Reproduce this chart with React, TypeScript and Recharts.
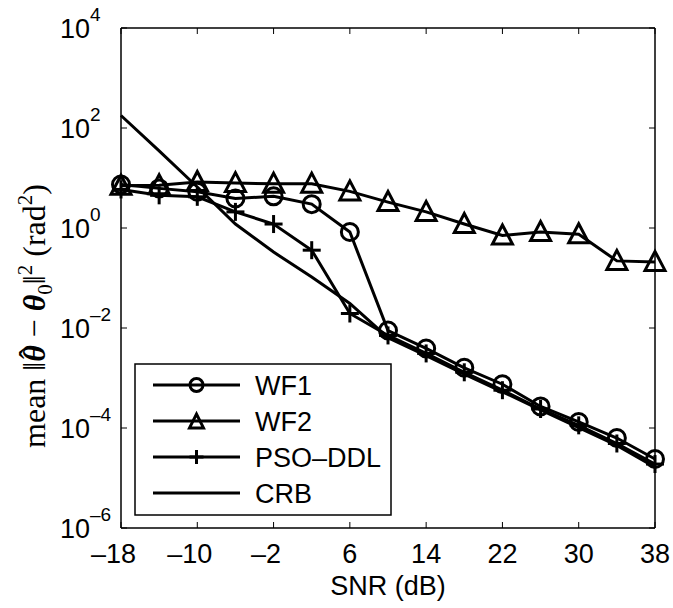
import React from 'react';
import { LineChart, Line, XAxis, YAxis, Legend } from 'recharts';

const snr = [-18, -14, -10, -6, -2, 2, 6, 10, 14, 18, 22, 26, 30, 34, 38];
const wf1 = [7.4, 6.2, 5.3, 3.9, 4.3, 3.0, 0.83, 0.0089, 0.0039, 0.0016, 7.5e-4, 2.7e-4, 1.32e-4, 6.3e-5, 2.4e-5];
const wf2 = [7.0, 7.2, 8.3, 7.9, 7.7, 7.7, 5.4, 3.3, 2.1, 1.2, 0.71, 0.83, 0.75, 0.22, 0.21];
const psoDdl = [5.9, 4.5, 4.2, 2.1, 1.2, 0.36, 0.0195, 0.0071, 0.0031, 0.0013, 5.7e-4, 2.4e-4, 1.13e-4, 4.9e-5, 1.9e-5];
const crb = [178, 35, 6.6, 1.2, 0.33, 0.105, 0.031, 0.0064, 0.0028, 0.0012, 5.3e-4, 2.3e-4, 1.02e-4, 4.5e-5, 1.65e-5];

const xTicks = [-18, -10, -2, 6, 14, 22, 30, 38];
const yTicks = [1e-6, 1e-4, 1e-2, 1e0, 1e2, 1e4];
const seriesNames = ['WF1', 'WF2', 'PSO–DDL', 'CRB'];

const data = snr.map((s, i) => ({ snr: s, wf1: wf1[i], wf2: wf2[i], pso: psoDdl[i], crb: crb[i] }));

const FONT = '"Liberation Sans", Arial, Helvetica, sans-serif';
const SERIF = '"Liberation Serif", "Times New Roman", serif';
const FS = 27;
const LW = 3;

const circleDot = (r: number) => (p: any) => (
  <circle key={`c${p.index}`} cx={p.cx} cy={p.cy} r={r} fill="none" stroke="#000" strokeWidth={LW} />
);
const triDot = (s: number) => (p: any) => {
  const h = s * 0.85;
  const pts = `${p.cx - s / 2},${p.cy + h / 2} ${p.cx + s / 2},${p.cy + h / 2} ${p.cx},${p.cy - h / 2 - 2}`;
  return <polygon key={`t${p.index}`} points={pts} fill="none" stroke="#000" strokeWidth={LW} strokeLinejoin="miter" />;
};
const plusDot = (s: number) => (p: any) => (
  <g key={`p${p.index}`}>
    <line x1={p.cx - s / 2} x2={p.cx + s / 2} y1={p.cy} y2={p.cy} stroke="#000" strokeWidth={LW} />
    <line x1={p.cx} x2={p.cx} y1={p.cy - s / 2} y2={p.cy + s / 2} stroke="#000" strokeWidth={LW} />
  </g>
);

const fmtX = (v: number) => (v < 0 ? `–${Math.abs(v)}` : `${v}`);

const XTick = (p: any) => {
  const v = p.payload.value;
  return (
    <g>
      <line x1={p.x} x2={p.x} y1={p.y} y2={p.y - 6} stroke="#000" strokeWidth={1} />
      <text x={p.x} y={p.y + 35} dx={v < 0 ? -7.5 : 0} textAnchor="middle" fontFamily={FONT} fontSize={FS} fill="#000">
        {fmtX(v)}
      </text>
    </g>
  );
};

const YTick = (p: any) => {
  const v = p.payload.value;
  const e = Math.round(Math.log10(v));
  return (
    <g>
      <line x1={p.x} x2={p.x + 6} y1={p.y} y2={p.y} stroke="#000" strokeWidth={1} />
      <text x={p.x - 61} y={p.y + 10} textAnchor="start" fontFamily={FONT} fontSize={FS} fill="#000">
        10
        <tspan dy={-17} fontSize={19}>{e < 0 ? `–${Math.abs(e)}` : `${e}`}</tspan>
      </text>
    </g>
  );
};

const TopTick = (p: any) => (
  <line x1={p.x} x2={p.x} y1={p.y} y2={p.y + 6} stroke="#000" strokeWidth={1} />
);
const RightTick = (p: any) => (
  <line x1={p.x} x2={p.x - 6} y1={p.y} y2={p.y} stroke="#000" strokeWidth={1} />
);

const LegendBox = () => {
  const rows = [0, 1, 2, 3];
  return (
    <svg width={258} height={153} style={{ display: 'block' }}>
      <rect x={1} y={1} width={256} height={151} fill="#fff" stroke="#000" strokeWidth={1.5} />
      {rows.map((i) => {
        const y = 22 + i * 36;
        return (
          <g key={i}>
            <line x1={19} x2={106} y1={y} y2={y} stroke="#000" strokeWidth={LW} />
            {i === 0 && circleDot(6.5)({ cx: 62.5, cy: y, index: 'l' })}
            {i === 1 && triDot(14)({ cx: 62.5, cy: y + 1, index: 'l' })}
            {i === 2 && plusDot(14)({ cx: 62.5, cy: y, index: 'l' })}
            <text x={121} y={y + 10} fontFamily={FONT} fontSize={FS} fill="#000">
              {seriesNames[i]}
            </text>
          </g>
        );
      })}
    </svg>
  );
};

export default function App() {
  return (
    <div style={{ position: 'absolute', left: 0, top: 0, width: 673, height: 608, background: '#fff' }}>
      <LineChart width={673} height={608} data={data} margin={{ top: 0, right: 0, bottom: 0, left: 21 }}>
        <XAxis
          dataKey="snr"
          type="number"
          domain={[-18, 38]}
          ticks={xTicks}
          interval={0}
          height={80}
          tickSize={0}
          tickMargin={0}
          tickLine={false}
          tick={<XTick />}
          axisLine={{ stroke: '#000', strokeWidth: 1.5 }}
          label={{
            content: (lp: any) => {
              const vb = lp.viewBox;
              return (
                <text x={vb.x + vb.width / 2} y={vb.y + 67} textAnchor="middle" fontFamily={FONT} fontSize={FS} fill="#000">
                  SNR (dB)
                </text>
              );
            },
          }}
        />
        <XAxis
          xAxisId="top"
          orientation="top"
          dataKey="snr"
          type="number"
          domain={[-18, 38]}
          ticks={xTicks}
          interval={0}
          height={28}
          tickSize={0}
          tickMargin={0}
          tickLine={false}
          tick={<TopTick />}
          axisLine={{ stroke: '#000', strokeWidth: 1.5 }}
        />
        <YAxis
          type="number"
          scale="log"
          domain={[1e-6, 1e4]}
          ticks={yTicks}
          interval={0}
          width={100}
          tickSize={0}
          tickMargin={0}
          tickLine={false}
          tick={<YTick />}
          allowDataOverflow
          axisLine={{ stroke: '#000', strokeWidth: 1.5 }}
          label={{
            content: () => {
              const cx = 45;
              const cy = 316;
              return (
                <text
                  x={cx}
                  y={cy}
                  transform={`rotate(-90 ${cx} ${cy})`}
                  textAnchor="middle"
                  fontFamily={SERIF}
                  fontSize={32}
                  fill="#000"
                >
                  <tspan>mean ‖</tspan>
                  <tspan fontWeight="bold" fontStyle="italic">θ</tspan>
                  <tspan dx={-14} dy={-4}>ˆ</tspan>
                  <tspan dx={3} dy={4}> − </tspan>
                  <tspan fontWeight="bold" fontStyle="italic">θ</tspan>
                  <tspan fontSize={21} dy={7}>0</tspan>
                  <tspan dy={-7}>‖</tspan>
                  <tspan fontSize={21} dy={-13}>2</tspan>
                  <tspan dy={13}> (rad</tspan>
                  <tspan fontSize={21} dy={-13}>2</tspan>
                  <tspan dy={13}>)</tspan>
                </text>
              );
            },
          }}
        />
        <YAxis
          yAxisId="right"
          orientation="right"
          type="number"
          scale="log"
          domain={[1e-6, 1e4]}
          ticks={yTicks}
          interval={0}
          width={18}
          tickSize={0}
          tickMargin={0}
          tickLine={false}
          tick={<RightTick />}
          allowDataOverflow
          axisLine={{ stroke: '#000', strokeWidth: 1.5 }}
        />
        <Legend
          layout="vertical"
          align="center"
          verticalAlign="middle"
          content={() => <LegendBox />}
          wrapperStyle={{ position: 'absolute', left: 134, top: 363, width: 258, height: 153 }}
        />
        <Line type="linear" dataKey="crb" name="CRB" stroke="#000" strokeWidth={LW} dot={false} isAnimationActive={false} />
        <Line type="linear" dataKey="pso" name="PSO–DDL" stroke="#000" strokeWidth={LW} dot={plusDot(18)} isAnimationActive={false} />
        <Line type="linear" dataKey="wf2" name="WF2" stroke="#000" strokeWidth={LW} dot={triDot(20)} isAnimationActive={false} />
        <Line type="linear" dataKey="wf1" name="WF1" stroke="#000" strokeWidth={LW} dot={circleDot(8.5)} isAnimationActive={false} />
      </LineChart>
    </div>
  );
}
